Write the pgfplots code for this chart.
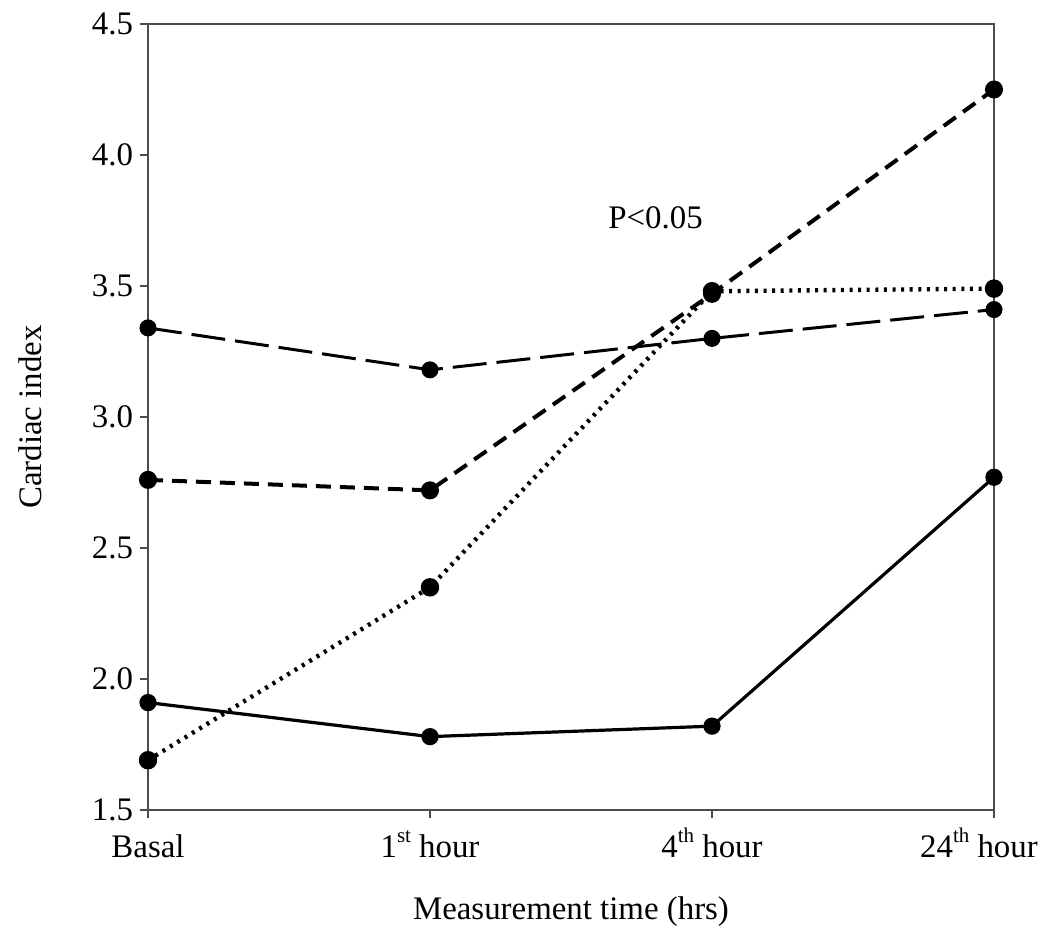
\documentclass[border=0pt]{standalone}
\usepackage{pgfplots}
\pgfplotsset{compat=1.18}
\usetikzlibrary{calc}
\usepackage{fontspec}
\setmainfont{Liberation Serif}
\newcommand{\sups}[1]{\raisebox{0.45em}{\fontsize{10.5}{11}\selectfont #1}}
\begin{document}
\begin{tikzpicture}
\begin{axis}[
  scale only axis,
  width=423bp, height=393bp,
  xmin=0, xmax=3, ymin=1.5, ymax=4.5,
  xtick={0,1,2,3},
  xticklabels={Basal, 1\sups{st} hour, 4\sups{th} hour, \hspace*{-15bp}24\sups{th} hour},
  ytick={1.5,2.0,2.5,3.0,3.5,4.0,4.5},
  yticklabel style={/pgf/number format/fixed, /pgf/number format/fixed zerofill, /pgf/number format/precision=1},
  /pgf/number format/assume math mode=true,
  tick align=outside,
  xtick pos=bottom, ytick pos=left,
  major tick length=4bp,
  tick style={black!70, line width=0.8bp},
  axis line style={black!70, line width=1bp},
  ticklabel style={font=\fontsize{16.5}{19}\selectfont},
  xticklabel style={text height=13bp, text depth=4bp, yshift=-3bp},
  xlabel={Measurement time (hrs)},
  ylabel={Cardiac index},
  every axis x label/.style={at={(axis description cs:0.5,0)}, anchor=center, yshift=-51bp, font=\fontsize{16.5}{19}\selectfont},
  every axis y label/.style={at={(axis description cs:-0.139,0.5)}, anchor=center, rotate=90, font=\fontsize{16.5}{19}\selectfont},
  every axis plot/.append style={black, mark=*, mark size=3.5bp, mark options={solid, fill=black}},
  clip=false,
]
% solid
\addplot[line width=1.6bp] coordinates {(0,1.91) (1,1.78) (2,1.82) (3,2.77)};
% long dash
\addplot[line width=1.5bp, dash pattern=on 17bp off 5bp] coordinates {(0,3.34) (1,3.18) (2,3.30) (3,3.41)};
% short dash
\addplot[line width=2bp, dash pattern=on 7.5bp off 4.5bp] coordinates {(0,2.76) (1,2.72) (2,3.47) (3,4.25)};
% dotted
\addplot[line width=2.2bp, dash pattern=on 1.5bp off 2.8bp] coordinates {(0,1.69) (1,2.35) (2,3.48) (3,3.49)};
\node[font=\fontsize{16.5}{19}\selectfont] at (axis cs:1.80,3.76) {P<0.05};
\end{axis}
\pgfresetboundingbox
\path[use as bounding box] ($(current axis.south west)+(-74bp,-60bp)$) rectangle ($(current axis.north east)+(27.5bp,12bp)$);
\end{tikzpicture}
\end{document}
